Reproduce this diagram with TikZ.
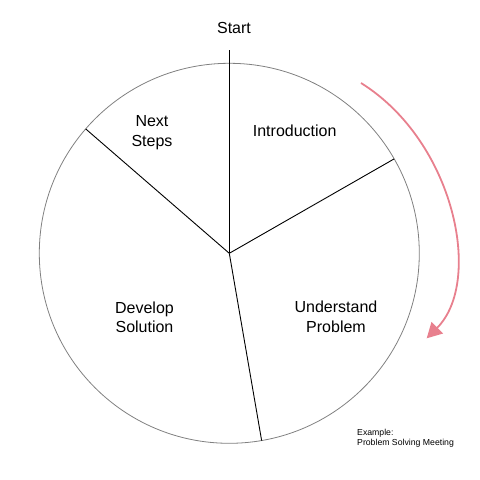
\documentclass[tikz,border=0pt]{standalone}
\usepackage{fontspec}
\setmainfont{Liberation Sans}
\usetikzlibrary{arrows.meta}
\definecolor{arrowpink}{HTML}{E8808E}
\newcommand{\wheelr}{190}

\begin{document}
\begin{tikzpicture}[x=1pt, y=1pt,
    lbl/.style={align=center, inner sep=0pt, font=\fontsize{16}{19.4}\selectfont},
    note/.style={align=left, anchor=west, inner sep=0pt, font=\fontsize{8.7}{10.5}\selectfont}]
    \useasboundingbox (-229.3,-226.7) rectangle (250.7,253.3);

    % Wheel
    \coordinate (centre) at (0,0);
    \draw[gray, line width=0.8pt] (centre) circle (\wheelr);
    \coordinate (spoke-1) at (90:203);
    \coordinate (spoke-2) at (29.8:\wheelr);
    \coordinate (spoke-3) at (-80.2:\wheelr);
    \coordinate (spoke-4) at (139.1:\wheelr);
    \draw[line width=0.9pt] (centre) -- (spoke-1);
    \draw[line width=0.9pt] (centre) -- (spoke-2);
    \draw[line width=0.9pt] (centre) -- (spoke-3);
    \draw[line width=0.9pt] (centre) -- (spoke-4);

    % Labels
    \node[lbl] (label-start) at (4.7,225.3) {Start};
    \node[lbl] (label-intro) at (65.4,122.3) {Introduction};
    \node[lbl] (label-next) at (-77.3,120.6) {Next\\Steps};
    \node[lbl] (label-problem) at (106.7,-63.4) {Understand\\Problem};
    \node[lbl] (label-solution) at (-84.8,-63.7) {Develop\\Solution};
    \node[note] (label-example) at (127.7,-184.7) {Example:\\Problem Solving Meeting};

    % Direction
    \coordinate (turn-start) at (131.7,170.3);
    \coordinate (turn-end) at (197.4,-85);
    \draw[arrowpink, line width=1.8pt, -{Triangle[length=15pt, width=16pt]}]
        (turn-start) .. controls (225.2,112) and (254.2,-28.2) .. (turn-end);
\end{tikzpicture}
\end{document}
